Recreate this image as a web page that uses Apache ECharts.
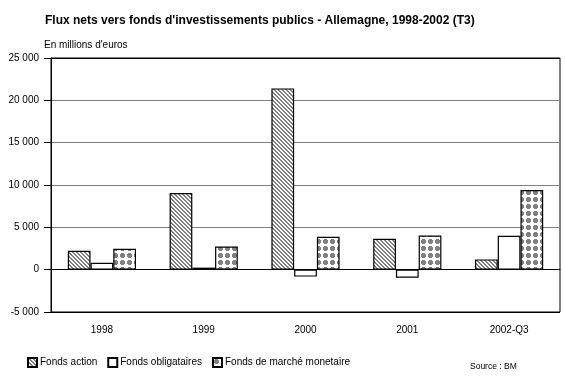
<!DOCTYPE html>
<html><head><meta charset="utf-8">
<script src="https://cdn.jsdelivr.net/npm/echarts@6/dist/echarts.min.js"></script>
<style>html,body{margin:0;padding:0;background:#fff}#c{width:565px;height:384px}</style>
</head><body><div id="c"></div>
<script>
const categories = ['1998','1999','2000','2001','2002-Q3'];
const fondsAction = [2230, 9060, 21410, 3650, 1210];
const fondsObligataires = [820, 240, -820, -940, 4000];
const fondsMonetaire = [2470, 2740, 3880, 4040, 9410];
const seriesNames = ['Fonds action','Fonds obligataires','Fonds de marché monetaire'];
const yTicks = {min:-5000, max:25000, interval:5000};

function makePattern(w, h, fn) {
  const c = document.createElement('canvas');
  c.width = w; c.height = h;
  const ctx = c.getContext('2d');
  const img = ctx.createImageData(w, h);
  for (let y = 0; y < h; y++) for (let x = 0; x < w; x++) {
    const col = fn(x, y);
    const i = (y * w + x) * 4;
    img.data[i] = col[0]; img.data[i+1] = col[1]; img.data[i+2] = col[2]; img.data[i+3] = 255;
  }
  ctx.putImageData(img, 0, 0);
  return c;
}
const G = [128,128,128], W = [255,255,255];
const hatch = makePattern(4, 4, (x, y) => (((x - y) % 4 + 4) % 4 < 2) ? G : W);
const dots = makePattern(7, 7, (x, y) => {
  const dx = Math.abs(x - 3), dy = Math.abs(y - 3);
  return (Math.max(dx, dy) <= 2 && dx + dy <= 3) ? G : W;
});

const fmt = v => {
  const s = String(Math.abs(v)).replace(/\B(?=(\d{3})+(?!\d))/g, ' ');
  return (v < 0 ? '-' : '') + s;
};

const chart = echarts.init(document.getElementById('c'), null, {renderer:'canvas'});
const bs = {borderColor:'#000', borderWidth:1.2};
chart.setOption({
  animation:false,
  textStyle:{fontFamily:'Liberation Sans, Arial, sans-serif'},
  title:{text:'Flux nets vers fonds d\'investissements publics - Allemagne, 1998-2002 (T3)',
    left:40, top:10, textStyle:{fontSize:12, fontWeight:'bold', color:'#000', fontFamily:'Liberation Sans'}},
  grid:{left:51, right:5, top:58, bottom:72, show:true, borderColor:'#000', borderWidth:1, backgroundColor:'#fff'},
  legend:{left:22, top:352, itemWidth:9, itemHeight:9, itemGap:10, icon:'rect',
    textStyle:{fontSize:10, color:'#000', padding:[0,0,0,-2]}, data:seriesNames},
  graphic:[
    {type:'text', left:44, top:40, style:{text:'En millions d\'euros', fontSize:10, fill:'#000', fontFamily:'Liberation Sans'}},
    {type:'text', left:470, top:362, style:{text:'Source : BM', fontSize:8.5, fill:'#000', fontFamily:'Liberation Sans'}}
  ],
  xAxis:{type:'category', data:categories,
    axisLine:{onZero:true, lineStyle:{color:'#000', width:1}},
    axisTick:{show:false},
    axisLabel:{color:'#000', fontSize:10, margin:13},
  },
  yAxis:{type:'value', min:yTicks.min, max:yTicks.max, interval:yTicks.interval,
    axisLine:{show:true, lineStyle:{color:'#000'}},
    axisTick:{show:true, length:7, lineStyle:{color:'#000'}},
    axisLabel:{color:'#000', fontSize:10, margin:12, formatter:fmt},
    splitLine:{show:true, lineStyle:{color:['#000','#000','#808080','#808080','#808080','#808080','#000'], width:1}}
  },
  series:[
    {name:seriesNames[0], type:'bar', data:fondsAction, barGap:'0%', barCategoryGap:'33%',
      itemStyle:Object.assign({color:{image:hatch, repeat:'repeat'}}, bs)},
    {name:seriesNames[1], type:'bar', data:fondsObligataires,
      itemStyle:Object.assign({color:'#fff'}, bs)},
    {name:seriesNames[2], type:'bar', data:fondsMonetaire,
      itemStyle:Object.assign({color:{image:dots, repeat:'repeat'}}, bs)}
  ]
});
</script></body></html>
